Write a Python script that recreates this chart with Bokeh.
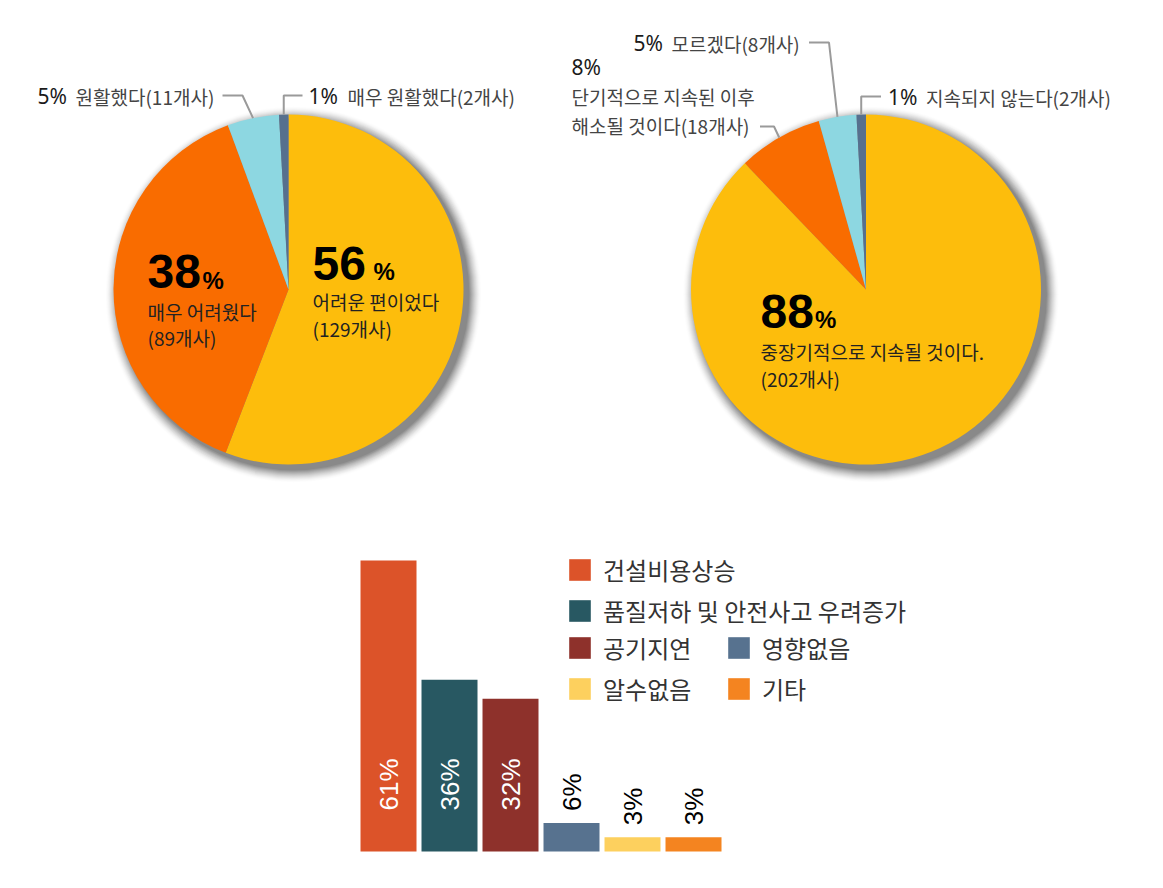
import math
from bokeh.plotting import figure
from bokeh.layouts import column, row
from bokeh.models import Spacer, Range1d, ColumnDataSource, Legend, LegendItem
from bokeh.core.properties import value
from bokeh.embed import file_html
from bokeh.resources import INLINE

# ---------------- data ----------------
pie1_labels = ["어려운 편이었다", "매우 어려웠다", "원활했다", "매우 원활했다"]
pie1_counts = [129, 89, 11, 2]
pie1_pcts = [56, 38, 5, 1]

pie2_labels = ["중장기적으로 지속될 것이다.", "단기적으로 지속된 이후\n해소될 것이다", "모르겠다", "지속되지 않는다"]
pie2_counts = [202, 18, 8, 2]
pie2_pcts = [88, 8, 5, 1]

pie_colors = ["#FDBD0C", "#F96C00", "#8DD7E1", "#56708E"]

bar_categories = ["건설비용상승", "품질저하 및 안전사고 우려증가", "공기지연", "영향없음", "알수없음", "기타"]
bar_values = [61, 36, 32, 6, 3, 3]
bar_colors = ["#DC5329", "#285862", "#8E312B", "#57728F", "#FDD05E", "#F48420"]

KR = "Noto Sans CJK KR"
NUM = "Noto Sans"
BOLD = "Liberation Sans"
R = 175
CY = 289
TOP_H = 520
LBL = "19px"


def txt(p, x, y, s, size, font=KR, color="#333333", style="normal", align="left", baseline="middle"):
    p.text(x=[x], y=[y], text=[s], text_font=value(font), text_font_size=size,
           text_color=color, text_font_style=style, text_align=align, text_baseline=baseline)


def pie_fig(width, cx, counts):
    p = figure(width=width, height=TOP_H, x_range=Range1d(-cx, width - cx),
               y_range=Range1d(CY - TOP_H, CY), output_backend="svg", toolbar_location=None,
               x_axis_location=None, y_axis_location=None, min_border=0)
    p.grid.visible = False
    p.outline_line_color = None
    # soft drop shadow (inner layers darker, outer lighter)
    for k in range(13, 0, -1):
        p.circle(x=[5], y=[-5], radius=R + k, fill_color="black",
                 fill_alpha=0.09 * (1 - k / 14), line_color=None)
    total = sum(counts)
    cum = 0
    starts, ends, mids = [], [], []
    for c in counts:
        a0 = math.pi / 2 - 2 * math.pi * cum / total
        cum += c
        a1 = math.pi / 2 - 2 * math.pi * cum / total
        starts.append(a0)
        ends.append(a1)
        mids.append((a0 + a1) / 2)
    src = ColumnDataSource(dict(x=[0] * len(counts), y=[0] * len(counts), s=starts, e=ends, c=pie_colors))
    p.wedge(x="x", y="y", radius=R, start_angle="s", end_angle="e", direction="clock",
            fill_color="c", line_color=None, source=src)
    anchors = [(R * math.cos(m), R * math.sin(m)) for m in mids]
    return p, anchors


LEAD = "#9A9A9A"

# ---------------- pie 1 ----------------
p1, a1 = pie_fig(560, 288, pie1_counts)
# 5% 원활했다
ax, ay = a1[2]
p1.line([-66, -46, ax], [194, 194, ay], line_color=LEAD, line_width=2)
txt(p1, -251, 194, f"{pie1_pcts[2]}%", "21px", font=NUM, color="#1a1a1a")
txt(p1, -213, 193, f"{pie1_labels[2]}({pie1_counts[2]}개사)", LBL, color="#444444")
# 1% 매우 원활했다
ax, ay = a1[3]
p1.line([ax, ax, 14], [ay, 194, 194], line_color=LEAD, line_width=2)
txt(p1, 20, 194, f"{pie1_pcts[3]}%", "21px", font=NUM, color="#1a1a1a")
txt(p1, 59, 193, f"{pie1_labels[3]}({pie1_counts[3]}개사)", LBL, color="#444444")
# inner 38%
txt(p1, -141, 18.5, f"{pie1_pcts[1]}", "48px", font=BOLD, color="black", style="bold")
txt(p1, -86, 9.5, "%", "24px", font=BOLD, color="black", style="bold")
txt(p1, -141, -22, pie1_labels[1], LBL, color="#222222")
txt(p1, -141, -48, f"({pie1_counts[1]}개사)", LBL, color="#222222")
# inner 56 %
txt(p1, 24, 26.5, f"{pie1_pcts[0]}", "48px", font=BOLD, color="black", style="bold")
txt(p1, 85, 18, "%", "24px", font=BOLD, color="black", style="bold")
txt(p1, 24, -12, pie1_labels[0], LBL, color="#222222")
txt(p1, 24, -39, f"({pie1_counts[0]}개사)", LBL, color="#222222")

# ---------------- pie 2 ----------------
p2, a2 = pie_fig(603, 305.5, pie2_counts)
# 5% 모르겠다
ax, ay = a2[2]
p2.line([-57, -37, ax], [247, 247, ay], line_color=LEAD, line_width=2)
txt(p2, -232.5, 247, f"{pie2_pcts[2]}%", "21px", font=NUM, color="#1a1a1a")
txt(p2, -194.5, 246, f"{pie2_labels[2]}({pie2_counts[2]}개사)", LBL, color="#444444")
# 1% 지속되지 않는다
ax, ay = a2[3]
p2.line([ax, ax, 15], [ay, 193, 193], line_color=LEAD, line_width=2)
txt(p2, 22, 193, f"{pie2_pcts[3]}%", "21px", font=NUM, color="#1a1a1a")
txt(p2, 60, 192, f"{pie2_labels[3]}({pie2_counts[3]}개사)", LBL, color="#444444")
# 8% 단기적으로...
ax, ay = a2[1]
lines = pie2_labels[1].split("\n")
p2.line([-106, -92, ax], [163, 163, ay], line_color=LEAD, line_width=2)
txt(p2, -294.5, 223, f"{pie2_pcts[1]}%", "21px", font=NUM, color="#1a1a1a")
txt(p2, -294.5, 193, lines[0], LBL, color="#444444")
txt(p2, -294.5, 164, f"{lines[1]}({pie2_counts[1]}개사)", LBL, color="#444444")
# inner 88%
txt(p2, -105.5, -21.5, f"{pie2_pcts[0]}", "48px", font=BOLD, color="black", style="bold")
txt(p2, -51, -30, "%", "24px", font=BOLD, color="black", style="bold")
txt(p2, -105.5, -62, pie2_labels[0], LBL, color="#222222")
txt(p2, -105.5, -89, f"({pie2_counts[0]}개사)", LBL, color="#222222")

# ---------------- bar chart ----------------
n = len(bar_values)
xs = list(range(n))
inside = [v >= 10 for v in bar_values]
bsrc = ColumnDataSource(dict(
    x=xs, top=bar_values, color=bar_colors, cat=bar_categories,
    lab=[f"{v}%" for v in bar_values],
    ly=[8.6 if ins else v + 2.5 for v, ins in zip(bar_values, inside)],
    lc=["white" if ins else "black" for ins in inside],
))
p3 = figure(width=600, height=340, x_range=Range1d(-0.787, 9.049), y_range=Range1d(-1.887, 69.39),
            output_backend="svg", toolbar_location=None, x_axis_location=None, y_axis_location=None,
            min_border=0)
p3.grid.visible = False
p3.outline_line_color = None
vb = p3.vbar(x="x", top="top", bottom=0, width=0.918, fill_color="color", line_color=None, source=bsrc)
p3.text(x="x", y="ly", text="lab", angle=math.pi / 2, text_align="left", text_baseline="middle",
        text_color="lc", text_font=value(BOLD), text_font_size="26px", source=bsrc)


def mk_legend(idx, loc):
    lg = Legend(items=[LegendItem(label=bar_categories[i], renderers=[vb], index=i) for i in idx],
                location=loc, orientation="vertical", glyph_width=27, glyph_height=27,
                label_standoff=10, spacing=6, padding=0, margin=0, label_height=27,
                border_line_alpha=0, background_fill_alpha=0,
                label_text_font=KR, label_text_font_size="24px", label_text_color="#333333")
    p3.add_layout(lg)


mk_legend([0, 1], (226, 232))
mk_legend([2, 4], (226, 154))
mk_legend([3, 5], (385, 154))

layout = column(row(p1, p2), row(Spacer(width=340, height=340), p3))
open("out.html", "w").write(file_html(layout, INLINE))
